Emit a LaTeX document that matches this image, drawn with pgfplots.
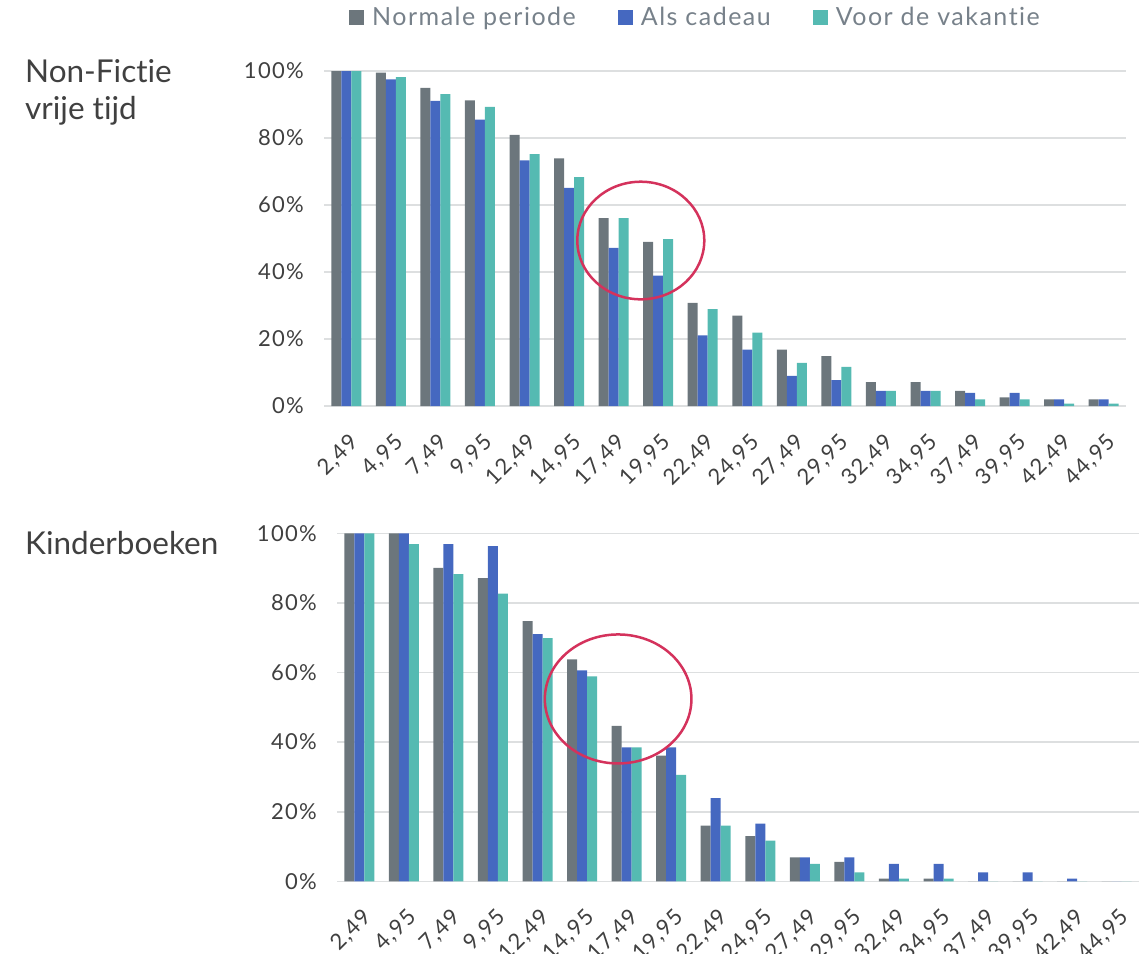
\documentclass[border=0pt]{standalone}
\usepackage{fontspec}
\setmainfont{Lato}[Ligatures=NoCommon]
\newfontfamily\spacedlato{Lato}[Ligatures=NoCommon, LetterSpace=6]
\usepackage{pgfplots}
\usepackage{pgfplotstable}
\pgfplotsset{compat=1.18}

\definecolor{cGray}{HTML}{6C767C}
\definecolor{cBlue}{HTML}{4568C0}
\definecolor{cTeal}{HTML}{55BAB2}
\definecolor{cRing}{HTML}{D4325C}
\definecolor{cGrid}{HTML}{DDDFE0}
\definecolor{cText}{HTML}{404040}
\definecolor{cLegend}{HTML}{77818A}

% share of buyers still willing to buy at each price point (%)
\pgfplotstableread{
x  norm  cad   vak
0  100   100   100
1  99.5  97.5  98.2
2  95.0  91.1  93.1
3  91.2  85.5  89.3
4  80.9  73.3  75.2
5  73.9  65.1  68.3
6  56.1  47.2  56.1
7  49.0  38.9  49.8
8  30.8  21.1  28.9
9  27.0  16.8  21.9
10 16.8  9.0   12.9
11 14.9  7.7   11.7
12 7.1   4.5   4.5
13 7.1   4.5   4.5
14 4.5   3.9   2.0
15 2.6   3.9   2.0
16 2.0   2.0   0.7
17 2.0   2.0   0.7
}\nonfiction

\pgfplotstableread{
x  norm  cad   vak
0  100   100   100
1  100   100   96.9
2  90.1  96.9  88.3
3  87.1  96.3  82.7
4  74.8  71.0  69.9
5  63.8  60.6  58.9
6  44.7  38.5  38.5
7  36.1  38.5  30.6
8  16.0  23.9  16.0
9  13.0  16.6  11.7
10 6.9   6.9   5.0
11 5.6   6.9   2.6
12 0.8   5.0   0.8
13 0.8   5.0   0.8
14 0     2.6   0
15 0     2.6   0
16 0     0.8   0
17 0     0     0
}\children

\pgfplotsset{
  pricebars/.style={
    scale only axis, width=802bp,
    ybar=0pt, bar width=10bp,
    xmin=-0.5, xmax=17.5, ymin=0, ymax=100,
    xtick={0,...,17},
    xticklabels={{2,49},{4,95},{7,49},{9,95},{12,49},{14,95},{17,49},{19,95},{22,49},
                 {24,95},{27,49},{29,95},{32,49},{34,95},{37,49},{39,95},{42,49},{44,95}},
    ytick={0,20,...,100},
    yticklabels={0\%,20\%,40\%,60\%,80\%,100\%},
    axis line style={draw=none}, major tick length=0pt,
    ymajorgrids, grid style={cGrid, line width=1.6bp},
    tick label style={font=\spacedlato\fontsize{22bp}{26bp}\selectfont, text=cText},
    yticklabel style={anchor=east, inner sep=0pt, xshift=-20bp},
    xticklabel style={inner sep=0pt, anchor=north east, xshift=2bp, yshift=-25.5bp, rotate=45},
    clip=false,
  },
  sq/.style={legend image code/.code={\fill[#1] (0bp,-7.5bp) rectangle (15bp,7.5bp);}},
}

\begin{document}
\begin{tikzpicture}
\useasboundingbox (0,0) rectangle (1141bp,-954bp);

\node[anchor=base west, inner sep=0pt, text=cText, font=\fontsize{31.5bp}{36bp}\selectfont] at (25bp,-82.7bp) {Non-Fictie};
\node[anchor=base west, inner sep=0pt, text=cText, font=\fontsize{31.5bp}{36bp}\selectfont] at (25bp,-119bp) {vrije tijd};
\node[anchor=base west, inner sep=0pt, text=cText, font=\fontsize{31.5bp}{36bp}\selectfont] at (25bp,-554.3bp) {Kinderboeken};

\begin{axis}[pricebars, at={(324bp,-406bp)}, anchor=south west, height=335bp,
  legend columns=3,
  legend style={draw=none, fill=none, inner sep=0pt,
    at={(0.0312,1.16)}, anchor=west,
    font=\spacedlato\fontsize{25bp}{30bp}\selectfont, text=cLegend,
    nodes={inner sep=0pt},
    /tikz/every odd column/.append style={column sep=8bp},
    /tikz/every even column/.append style={column sep=42bp}},
  ]
  \addplot[fill=cGray, draw=none, sq=cGray] table[x=x, y=norm] {\nonfiction};
  \addplot[fill=cBlue, draw=none, sq=cBlue] table[x=x, y=cad] {\nonfiction};
  \addplot[fill=cTeal, draw=none, sq=cTeal] table[x=x, y=vak] {\nonfiction};
  \legend{Normale periode, Als cadeau, Voor de vakantie}
  \draw[cRing, line width=2.5bp] (axis cs:6.61,49.4) ellipse [x radius=63.5bp, y radius=58.8bp];
\end{axis}

\begin{axis}[pricebars, at={(337bp,-881.3bp)}, anchor=south west, height=348bp]
  \addplot[fill=cGray, draw=none] table[x=x, y=norm] {\children};
  \addplot[fill=cBlue, draw=none] table[x=x, y=cad] {\children};
  \addplot[fill=cTeal, draw=none] table[x=x, y=vak] {\children};
  \draw[cRing, line width=2.5bp] (axis cs:5.81,52.4) ellipse [x radius=73.3bp, y radius=64.5bp];
\end{axis}
\end{tikzpicture}
\end{document}
